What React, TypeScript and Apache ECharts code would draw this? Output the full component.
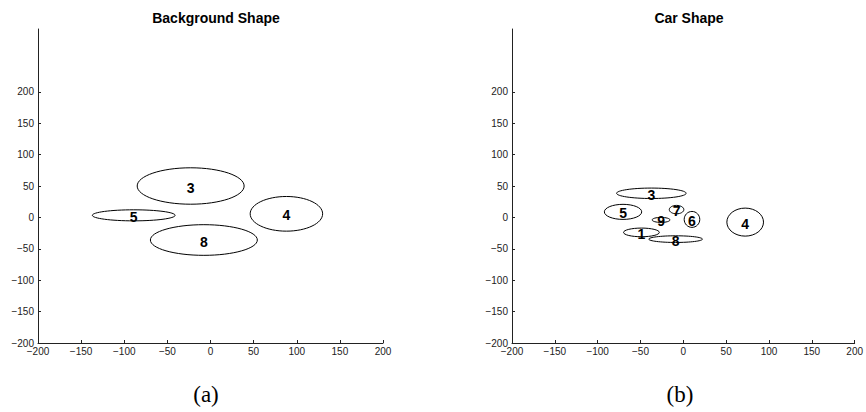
import React, { useEffect, useRef } from "react";
import * as echarts from "echarts";

// Ellipses: centers [x, y], radii [rx, ry], labels
const bgCenters: number[][] = [
  [-23, 50],
  [-89, 3.3],
  [88, 5.7],
  [-7.7, -36],
];
const bgRadii: number[][] = [
  [62, 29],
  [48, 8.8],
  [42, 27.6],
  [62, 24.4],
];
const bgLabels: string[] = ["3", "5", "4", "8"];

const carCenters: number[][] = [
  [-37.3, 38.4],
  [-70.4, 8.8],
  [-7.9, 12.4],
  [10.1, -3.2],
  [-26, -4],
  [72.2, -7.5],
  [-48.9, -23.9],
  [-9, -34.6],
];
const carRadii: number[][] = [
  [40.6, 8.3],
  [21.8, 12],
  [8.5, 6.7],
  [9.1, 12.7],
  [10.4, 4],
  [21.4, 22.3],
  [20.9, 6.9],
  [31.3, 5.3],
];
const carLabels: string[] = ["3", "5", "7", "6", "9", "4", "1", "8"];

const titles: string[] = ["Background Shape", "Car Shape"];
const captions: string[] = ["(a)", "(b)"];
const yTickValues: number[] = [-200, -150, -100, -50, 0, 50, 100, 150, 200];

const FONT = "'Liberation Sans', Arial, sans-serif";

function buildData(centers: number[][], radii: number[][]) {
  return centers.map((c, i) => [c[0], c[1], radii[i][0], radii[i][1]]);
}

function makeRenderer(labels: string[]) {
  return function renderEllipse(params: any, api: any) {
    const cx = api.value(0);
    const cy = api.value(1);
    const rx = api.value(2);
    const ry = api.value(3);
    const label = labels[params.dataIndex] ?? "";
    const p = api.coord([cx, cy]);
    const s = api.size([rx, ry]);
    return {
      type: "group",
      children: [
        {
          type: "ellipse",
          shape: { cx: p[0], cy: p[1], rx: s[0], ry: s[1] },
          style: { fill: "none", stroke: "#000", lineWidth: 1 },
        },
        {
          type: "text",
          x: p[0],
          y: p[1] + 1.5,
          style: {
            text: label,
            fill: "#000",
            font: `bold 14px ${FONT}`,
            align: "center",
            verticalAlign: "middle",
          },
        },
      ],
    };
  };
}

export default function App() {
  const ref = useRef<HTMLDivElement>(null);
  useEffect(() => {
    if (!ref.current) return;
    const chart = echarts.init(ref.current, null, { renderer: "svg" });
    const axisLine = { show: true, lineStyle: { color: "#222", width: 1 } };
    const labelStyle = {
      color: "#222",
      fontSize: 10,
      fontFamily: FONT,
      formatter: (v: number) => String(v).replace("-", "\u2212"),
    };
    const xAxis = (gi: number) => ({
      type: "value",
      gridIndex: gi,
      min: -200,
      max: 200,
      interval: 50,
      axisLine: { ...axisLine, onZero: false },
      axisTick: { show: true, inside: true, length: 3, lineStyle: { color: "#222" } },
      axisLabel: { ...labelStyle, margin: 3, showMinLabel: true, showMaxLabel: true },
      splitLine: { show: false },
    });
    const yAxis = (gi: number) => ({
      type: "value",
      gridIndex: gi,
      min: -200,
      max: 300,
      interval: 50,
      axisLine: { ...axisLine, onZero: false },
      axisTick: {
        show: true,
        inside: true,
        length: 3,
        lineStyle: { color: "#222" },
        customValues: yTickValues,
      },
      axisLabel: { ...labelStyle, margin: 4, customValues: yTickValues },
      splitLine: { show: false },
    });
    chart.setOption({
      animation: false,
      backgroundColor: "#fff",
      title: [
        {
          text: titles[0],
          left: 211,
          top: 6,
          textAlign: "center",
          textStyle: { fontFamily: FONT, fontSize: 14, fontWeight: "bold", color: "#000" },
        },
        {
          text: titles[1],
          left: 684,
          top: 6,
          textAlign: "center",
          textStyle: { fontFamily: FONT, fontSize: 14, fontWeight: "bold", color: "#000" },
        },
      ],
      grid: [
        { left: 38, top: 29, width: 345, height: 314, containLabel: false },
        { left: 512, top: 29, width: 345, height: 314, containLabel: false },
      ],
      xAxis: [xAxis(0), xAxis(1)],
      yAxis: [yAxis(0), yAxis(1)],
      series: [
        {
          type: "custom",
          xAxisIndex: 0,
          yAxisIndex: 0,
          renderItem: makeRenderer(bgLabels),
          data: buildData(bgCenters, bgRadii),
          clip: false,
        },
        {
          type: "custom",
          xAxisIndex: 1,
          yAxisIndex: 1,
          renderItem: makeRenderer(carLabels),
          data: buildData(carCenters, carRadii),
          clip: false,
        },
      ],
      graphic: [
        {
          type: "text",
          x: 206,
          y: 394,
          style: {
            text: captions[0],
            font: "23px 'Liberation Serif', 'Times New Roman', serif",
            fill: "#000",
            align: "center",
            verticalAlign: "middle",
          },
        },
        {
          type: "text",
          x: 680,
          y: 394,
          style: {
            text: captions[1],
            font: "23px 'Liberation Serif', 'Times New Roman', serif",
            fill: "#000",
            align: "center",
            verticalAlign: "middle",
          },
        },
      ],
    });
    return () => chart.dispose();
  }, []);
  return (
    <div
      ref={ref}
      style={{ position: "absolute", left: 0, top: 0, width: 866, height: 412 }}
    />
  );
}
